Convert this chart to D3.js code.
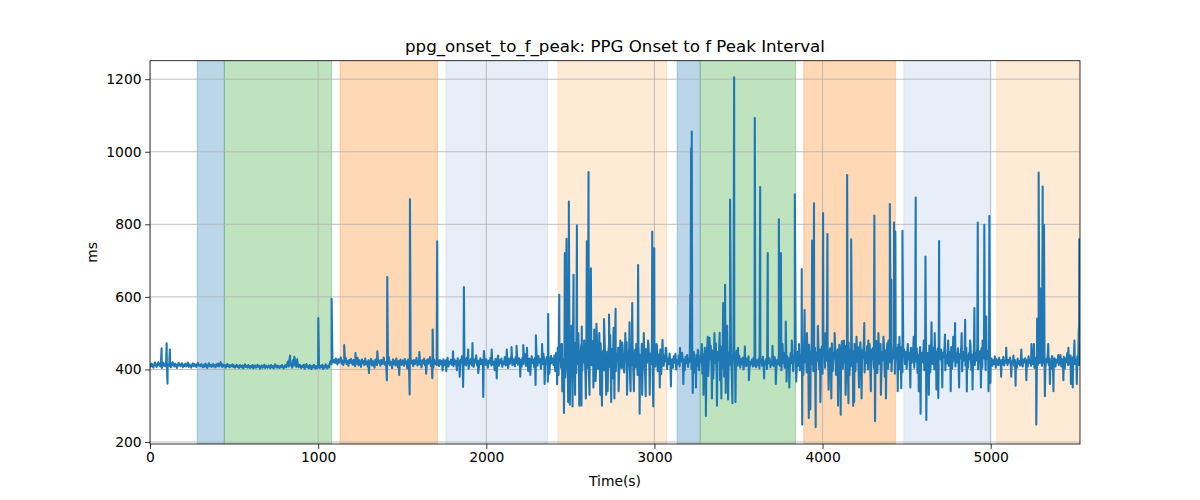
<!DOCTYPE html>
<html><head><meta charset="utf-8">
<script src="https://cdn.jsdelivr.net/npm/d3@7"></script>
<style>body{margin:0;background:#fff}svg{display:block}text{font-family:"DejaVu Sans",sans-serif}</style>
</head><body><svg id="c" width="1200" height="500"></svg>
<script>
const title = "ppg_onset_to_f_peak: PPG Onset to f Peak Interval";
const xLabel = "Time(s)";
const yLabel = "ms";
const xTicks = [0,1000,2000,3000,4000,5000];
const yTicks = [200,400,600,800,1000,1200];
const xDomain = [0, 5531];
const yDomain = [194.5, 1251];

// shaded phases
const spanStart = [281, 442, 1130, 1760, 2426, 3135, 3272, 3888, 4483, 5036];
const spanEnd   = [442, 1080, 1710, 2364, 3072, 3272, 3839, 4433, 4998, 5531];
const spanColor = ["#1f77b4","#2ca02c","#ff7f0e","#aec7e8","#ffbb78","#1f77b4","#2ca02c","#ff7f0e","#aec7e8","#ffbb78"];

// baseline readings every 5 s
const baseStep = 5;
const baseline = [
412,408,416,410,405,414,419,411,407,415,420,412,409,417,404,413,418,410,415,408,
421,414,409,418,412,406,415,420,411,408,416,413,404,410,418,415,409,412,417,406,
413,410,416,408,412,419,407,414,410,405,413,417,409,415,411,407,414,418,410,412,
409,415,411,406,413,408,416,410,404,412,417,409,413,407,411,415,408,412,406,414,
410,416,408,413,420,411,407,414,409,412,405,410,415,408,412,406,411,409,414,407,
411,405,409,413,407,410,404,412,408,406,411,403,409,414,407,410,405,412,408,404,
410,406,412,403,409,411,405,408,413,406,410,402,408,411,405,409,413,404,410,407,
405,411,408,404,412,406,409,403,410,414,407,405,411,408,404,410,406,412,408,403,
409,412,406,414,422,408,430,412,416,405,425,410,432,418,407,428,411,406,413,408,
404,411,407,413,402,409,415,406,410,403,412,408,401,410,405,413,407,402,409,404,
408,412,404,410,406,413,401,409,405,414,407,403,411,406,418,424,415,428,420,426,
418,430,422,414,428,419,425,433,416,424,412,427,420,431,415,423,410,426,418,429,
421,413,426,418,409,424,416,432,411,425,419,407,428,417,423,412,430,415,421,408,
425,414,420,429,411,423,416,405,427,418,412,431,419,424,410,426,415,421,433,413,
420,408,426,417,435,412,422,418,404,428,415,424,411,430,419,406,423,416,427,413,
418,425,410,429,416,422,403,427,419,413,431,417,424,409,426,415,420,432,411,423,
414,427,419,406,425,417,430,412,423,408,428,416,421,434,410,424,418,405,427,415,
422,412,430,418,409,426,415,423,397,428,417,411,425,419,432,408,421,416,427,413,
420,409,428,415,423,398,431,417,410,426,419,436,405,422,414,429,411,433,418,402,
425,416,430,411,423,407,427,419,439,412,424,402,418,431,415,426,409,436,420,413,
428,417,405,424,419,432,411,426,414,421,398,429,416,423,438,410,425,418,430,407,
422,415,434,411,427,419,404,430,416,425,441,412,420,428,409,435,418,424,413,431,
419,426,408,433,415,424,442,410,428,417,395,430,421,413,436,418,427,406,432,416,
424,411,437,419,428,402,431,415,443,420,409,426,434,412,429,388,425,437,417,430,
412,438,395,445,418,460,385,432,452,405,470,392,428,455,378,440,465,398,430,410,
448,382,436,462,401,427,474,390,445,415,458,372,433,468,396,440,420,452,380,446,
405,466,388,438,455,412,430,478,393,447,368,425,460,402,441,418,472,386,435,452,
398,463,420,381,449,432,470,407,428,456,375,439,414,466,395,444,425,460,388,437,
451,404,468,418,392,446,430,475,399,436,458,378,442,412,465,390,433,454,406,447,
385,462,425,440,397,471,412,448,430,383,456,418,437,468,402,444,415,460,392,435,
452,408,433,466,395,441,420,455,387,429,447,410,438,422,458,401,430,415,444,418,
412,428,405,436,419,443,400,425,415,438,408,431,422,446,410,427,398,435,418,440,
407,430,421,445,402,433,415,448,392,428,440,410,452,398,436,420,455,388,441,425,
460,395,438,470,382,445,428,465,400,452,375,440,418,472,390,448,425,458,370,436,
463,405,442,380,468,420,435,455,392,447,413,476,385,440,428,460,398,432,452,410,
420,438,405,428,415,432,400,425,418,409,430,412,436,402,421,415,427,408,433,411,
418,406,425,412,430,403,419,427,410,435,408,422,414,429,401,424,417,431,406,420,
413,428,409,434,418,403,426,415,440,410,423,398,431,417,445,405,428,420,437,412,
430,402,445,418,455,395,438,425,462,388,448,410,470,398,440,428,465,385,452,420,
472,392,445,430,468,378,450,415,476,395,438,460,382,447,425,470,400,455,418,463,
388,442,475,405,450,425,466,380,438,458,410,472,395,446,430,462,385,440,455,412,
468,398,436,478,402,452,420,465,390,445,428,474,384,440,458,408,450,430,470,395,
447,422,462,386,438,475,410,452,430,468,392,446,418,464,400,440,470,382,455,428,
460,405,445,432,478,390,440,458,415,470,398,448,426,466,380,452,435,472,402,444,
420,465,395,450,430,474,388,442,460,410,468,400,445,425,462,392,438,455,415,448,
402,452,428,445,395,460,418,438,465,405,448,422,458,390,440,430,462,408,446,420,
455,398,438,462,412,445,425,466,392,440,452,415,460,400,436,448,420,458,395,442,
428,455,405,446,432,460,398,440,418,458,410,448,435,462,402,438,425,455,408,445,
420,458,400,442,430,465,395,448,425,452,410,460,438,405,445,428,462,398,440,432,
455,412,446,425,462,400,438,450,418,458,405,442,430,465,398,445,428,452,410,440,
418,430,410,425,415,436,405,428,420,412,432,418,408,426,414,435,411,424,419,428,
412,426,419,433,407,422,415,438,410,425,418,405,430,416,423,411,434,420,408,427,
419,431,412,425,408,436,418,422,410,440,415,428,405,432,420,438,412,445,418,430,
425,410,442,418,433,405,428,420,446,412,430,418,402,437,422,415,431,408,426,419,
433,412,425,440,408,428,418,435,402,430,420,445,412,427,415,438,405,432,422,440,
415,428,410,436,420,412,425];

// large spikes: time (s)
const spikeT = [69,99,104,118,833,858,1001,1080,1155,
1409,1411,1544,1546,1679,1681,1708,
1862,1867,1918,1982,1986,2150,2180,2220,2293,2295,2366,2368,
2421,2434,2462,2467,2477,2491,2497,2513,2519,2539,2553,2566,2568,2598,2608,2614,2622,2655,2688,2700,2713,2730,2743,2769,2808,2868,2878,2903,2912,2948,2987,2993,2999,3048,
3098,3213,3218,3222,3228,3258,3306,3328,3388,3409,3420,3424,3438,3450,3464,3474,3538,3597,3629,3674,3740,3752,3781,3786,3835,3843,
3876,3879,3893,3918,3938,3949,3959,4003,4029,4036,4108,4146,4154,4170,4188,4248,4308,4312,4400,4409,4425,4433,4468,4475,
4554,4583,4612,4617,4648,4688,4693,4728,4788,4848,4858,4903,4923,4962,4973,4992,4998,
5148,5271,5276,5285,5294,5309,5317,5322,5373,5488,5498,5512,5524,5527];
// large spikes: value (ms)
const spikeV = [458,472,361,455,438,435,542,595,467,
370,655,331,869,376,510,753,
352,627,473,324,451,462,465,467,357,494,366,553,
359,606,280,721,760,863,303,298,661,797,300,300,518,753,944,330,679,526,300,539,330,551,310,567,474,583,340,688,278,326,780,298,734,482,
353,606,1010,1056,335,454,272,487,501,583,633,335,317,868,307,1205,463,1093,903,721,814,721,532,367,883,367,
677,248,564,266,755,858,241,831,773,344,275,936,307,759,310,528,824,257,856,647,805,780,348,782,
874,278,711,261,530,321,754,496,528,537,339,569,805,799,546,823,363,
355,248,540,943,624,904,799,326,340,350,480,360,514,759];

// smaller excursions: time (s)
const minorT = [1222,1302,1352,1482,1602,1642,1762,1802,1842,1892,1952,2032,2062,2122,2202,2242,2262,2332,2347,
2447,2452,2487,2507,2528,2547,2582,2592,2637,2642,2672,2678,2722,2737,2757,2762,2787,2797,2827,2837,2852,2858,2892,2927,2937,2962,2972,3012,3032,3067,
3152,3172,3247,3282,3292,3317,3342,3357,3372,3398,3432,3482,3497,
3562,3652,3702,3722,3762,3802,3817,
3907,3927,3972,3987,4017,4052,4072,4092,4127,4137,4182,4202,4217,4232,4272,4287,4332,4347,4362,4377,4392,4447,4457,
4507,4522,4542,4572,4602,4632,4667,4677,4712,4747,4762,4777,4812,4827,4877,4892,4942,4952,4987,
5062,5092,5122,5182,5212,5242,5257,5342,5352,5402,5432,5462,5477];
// smaller excursions: value (ms)
const minorV = [445,390,450,385,448,388,395,450,380,455,390,455,375,455,380,460,385,470,360,
470,340,310,520,330,500,480,320,350,510,500,330,340,495,515,320,340,480,500,330,530,340,470,330,500,480,330,470,350,460,
460,360,350,470,330,490,320,500,300,320,520,310,460,
370,375,465,360,470,350,480,
500,290,520,310,500,320,500,300,480,330,300,490,350,320,480,340,500,330,490,320,480,340,490,
470,350,490,340,480,330,500,345,350,480,340,490,350,500,480,345,350,480,340,
380,460,380,455,370,470,470,470,360,440,370,460,360];

const pts = baseline.map((v,i)=>[i*baseStep, v])
  .concat(spikeT.map((t,i)=>[t, spikeV[i]]))
  .concat(minorT.map((t,i)=>[t, minorV[i]]))
  .sort((a,b)=>a[0]-b[0]);

const svg = d3.select("#c");
const m = {l:150, r:1080, t:60.7, b:444};
const x = d3.scaleLinear().domain(xDomain).range([m.l, m.r]);
const y = d3.scaleLinear().domain(yDomain).range([m.b, m.t]);

svg.append("defs").append("clipPath").attr("id","clip")
  .append("rect").attr("x",m.l).attr("y",m.t).attr("width",m.r-m.l).attr("height",m.b-m.t);

const g = svg.append("g").attr("clip-path","url(#clip)");
g.selectAll("rect.span").data(spanStart).join("rect")
  .attr("x",(d)=>x(d)).attr("width",(d,i)=>x(spanEnd[i])-x(d))
  .attr("y",m.t).attr("height",m.b-m.t)
  .attr("fill",(d,i)=>spanColor[i]).attr("fill-opacity",0.3)
  .attr("stroke",(d,i)=>spanColor[i]).attr("stroke-opacity",0.3).attr("stroke-width",1);

g.selectAll("line.gx").data(xTicks).join("line")
  .attr("x1",d=>x(d)).attr("x2",d=>x(d)).attr("y1",m.t).attr("y2",m.b)
  .attr("stroke","#b0b0b0").attr("stroke-width",0.8);
g.selectAll("line.gy").data(yTicks).join("line")
  .attr("y1",d=>y(d)).attr("y2",d=>y(d)).attr("x1",m.l).attr("x2",m.r)
  .attr("stroke","#b0b0b0").attr("stroke-width",0.8);

g.append("path").datum(pts)
  .attr("d", d3.line().x(d=>x(d[0])).y(d=>y(d[1])))
  .attr("fill","none").attr("stroke","#1f77b4").attr("stroke-width",2.08)
  .attr("stroke-linejoin","round").attr("stroke-linecap","square");

const xa = svg.append("g").attr("transform",`translate(0,${m.b})`)
  .call(d3.axisBottom(x).tickValues(xTicks).tickFormat(d3.format("d")).tickSize(4.9).tickPadding(3.5));
const ya = svg.append("g").attr("transform",`translate(${m.l},0)`)
  .call(d3.axisLeft(y).tickValues(yTicks).tickFormat(d3.format("d")).tickSize(4.9).tickPadding(3.5));
[xa,ya].forEach(a=>{
  a.select(".domain").remove();
  a.selectAll(".tick line").attr("stroke","#000").attr("stroke-width",0.8);
  a.selectAll(".tick text").attr("font-size","13.89px").attr("fill","#000").attr("font-family","DejaVu Sans");
});
svg.append("rect").attr("x",m.l).attr("y",m.t).attr("width",m.r-m.l).attr("height",m.b-m.t)
  .attr("fill","none").attr("stroke","#000").attr("stroke-width",0.8);

svg.append("text").attr("x",(m.l+m.r)/2).attr("y",52).attr("text-anchor","middle")
  .attr("font-size","16.67px").text(title);
svg.append("text").attr("x",(m.l+m.r)/2).attr("y",486).attr("text-anchor","middle")
  .attr("font-size","13.89px").text(xLabel);
svg.append("text").attr("transform",`translate(97,${(m.t+m.b)/2}) rotate(-90)`).attr("text-anchor","middle")
  .attr("font-size","13.89px").text(yLabel);
</script></body></html>
